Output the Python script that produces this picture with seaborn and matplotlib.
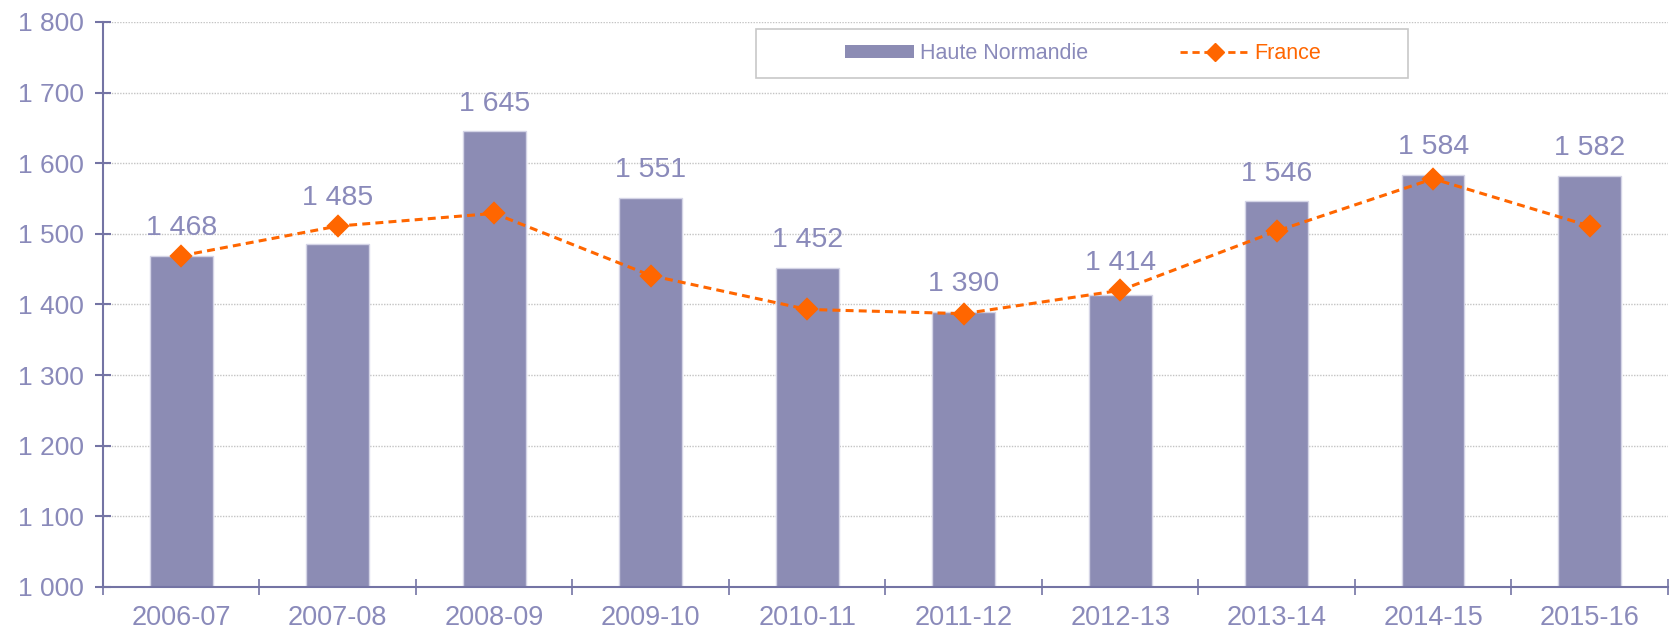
import numpy as np
import pandas as pd
import matplotlib
matplotlib.use('Agg')
import matplotlib.pyplot as plt
from matplotlib.ticker import FuncFormatter
from matplotlib.patches import Rectangle, Patch
from matplotlib.lines import Line2D
import seaborn as sns

# data
periodes = ['2006-07', '2007-08', '2008-09', '2009-10', '2010-11',
            '2011-12', '2012-13', '2013-14', '2014-15', '2015-16']
haute_normandie = [1468, 1485, 1645, 1551, 1452, 1390, 1414, 1546, 1584, 1582]
france = [1469, 1511, 1529, 1441, 1393, 1387, 1420, 1504, 1578, 1511]

bar_color = '#8C8CB4'
text_color = '#8A8ABA'
axis_color = '#7474A4'
orange = '#FF6600'
dash = (0, (2.6, 1.7))

df = pd.DataFrame({'periode': periodes,
                   'Haute Normandie': haute_normandie,
                   'France': france})

sns.set_style('white')
plt.rcParams['font.family'] = ['Liberation Sans', 'DejaVu Sans']

fig = plt.figure(figsize=(16.77, 6.28), dpi=100)
ax = fig.add_axes([0.0614, 0.0653, 0.9332, 0.8997])

sns.barplot(data=df, x='periode', y='Haute Normandie', color=bar_color,
            width=0.4, saturation=1, edgecolor='#D4D4E6', linewidth=1, ax=ax, zorder=2)
sns.pointplot(data=df, x='periode', y='France', color=orange, marker='D',
              markersize=10.5, linestyle=dash, linewidth=2.2, ax=ax, zorder=4)

# value labels above bars
for i, (v, f) in enumerate(zip(haute_normandie, france)):
    top = max(v, f)
    ax.annotate(f'{v:,}'.replace(',', ' '), xy=(i, top), xytext=(0, 20),
                textcoords='offset points', ha='center', va='center',
                fontsize=20.5, color=text_color)

ax.set_ylim(1000, 1800)
ax.set_xlim(-0.5, len(periodes) - 0.5)
ax.set_yticks(np.arange(1000, 1801, 100))
ax.yaxis.set_major_formatter(FuncFormatter(lambda v, p: f'{v:,.0f}'.replace(',', ' ')))
ax.set_xticks(np.arange(len(periodes)))
ax.set_xticklabels(periodes)
ax.set_xticks(np.arange(-0.5, len(periodes), 1), minor=True)
ax.set_xlabel('')
ax.set_ylabel('')

ax.grid(axis='y', color='#C4C4C4', linestyle=(0, (1, 1)), linewidth=1, zorder=0)
ax.set_axisbelow(True)

for s in ['top', 'right']:
    ax.spines[s].set_visible(False)
for s in ['left', 'bottom']:
    ax.spines[s].set_color(axis_color)
    ax.spines[s].set_linewidth(1.5)
    ax.spines[s].set_zorder(5)

ax.tick_params(axis='y', left=True, direction='inout', length=12, width=1.5, color=axis_color,
               labelcolor=text_color, labelsize=19, pad=8)
ax.tick_params(axis='x', which='major', bottom=True, length=0, labelcolor=text_color,
               labelsize=19.5, pad=13)
ax.tick_params(axis='x', which='minor', bottom=True, direction='inout', length=12, width=1.2,
               color=axis_color)

# legend with a wide frame like the original
fig.add_artist(Rectangle((0.4508, 0.876), 0.389, 0.078, transform=fig.transFigure,
                         facecolor='white', edgecolor='#C8C8C8', linewidth=1.2))
handles = [Patch(facecolor=bar_color, edgecolor='none'),
           Line2D([], [], color=orange, linestyle=dash, linewidth=2, marker='D', markersize=9)]
leg = fig.legend(handles, ['Haute Normandie', 'France'], loc='center',
                 bbox_to_anchor=(0.646, 0.915), ncol=2, frameon=False,
                 fontsize=15.5, handlelength=3.2, handleheight=0.55,
                 handletextpad=0.25, columnspacing=4.3)
leg.get_texts()[0].set_color(text_color)
leg.get_texts()[1].set_color(orange)

fig.savefig('out.png', dpi=100)
